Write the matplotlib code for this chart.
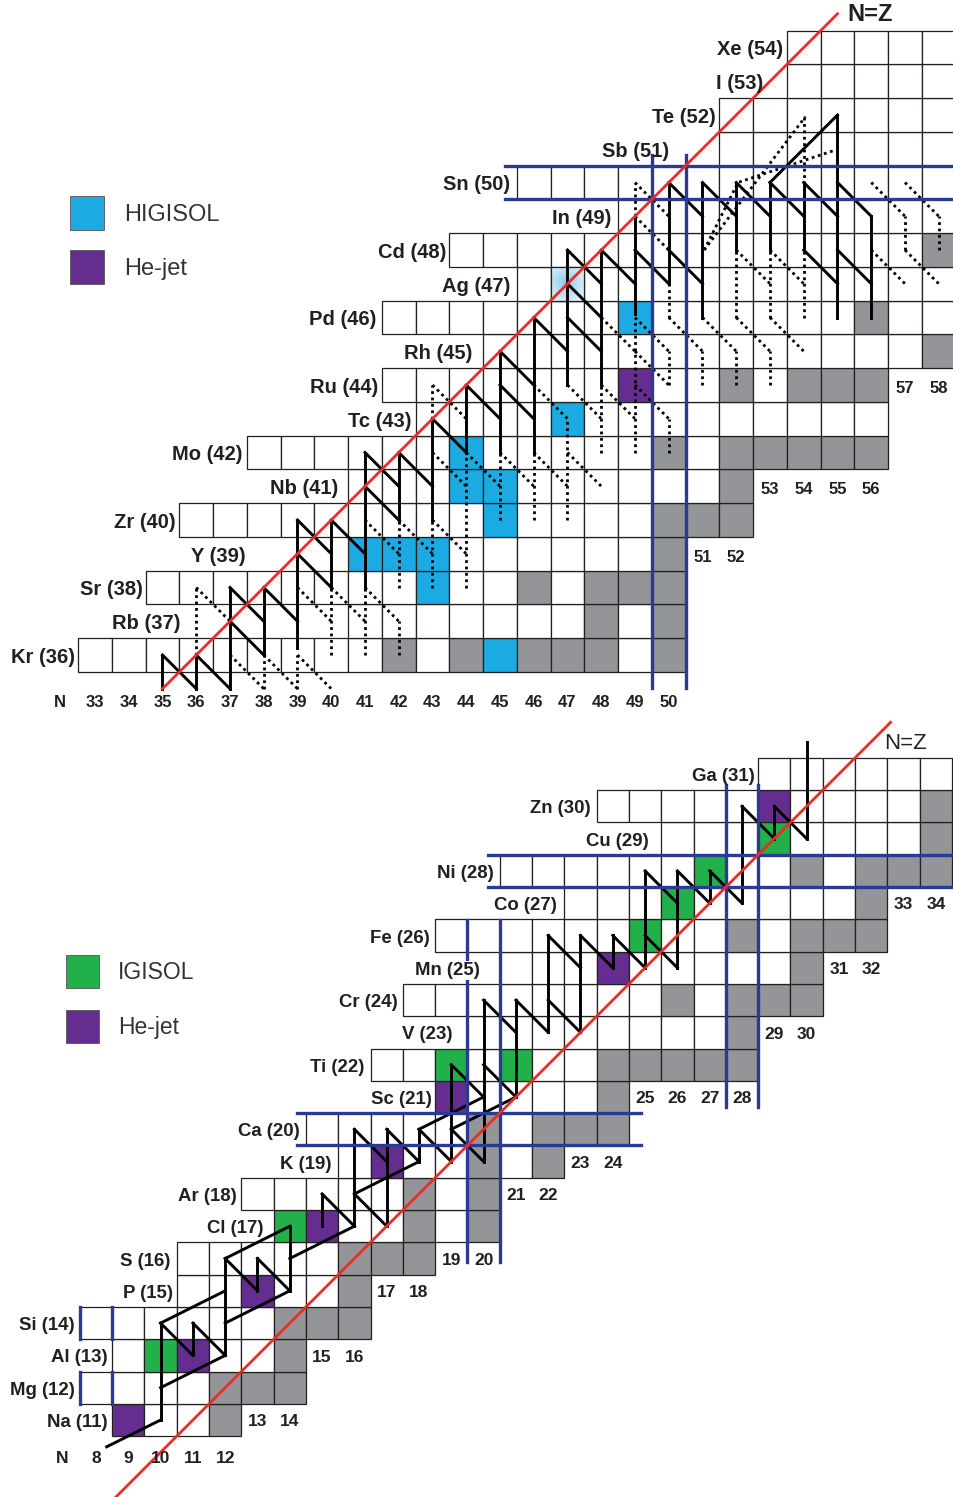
import numpy as np
import matplotlib.pyplot as plt
from matplotlib.patches import Rectangle, Patch

plt.rcParams['font.family'] = ['Liberation Sans', 'DejaVu Sans']

# ---------------- upper chart: Kr (36) .. Xe (54) ----------------
top_elements = ['Kr', 'Rb', 'Sr', 'Y', 'Zr', 'Nb', 'Mo', 'Tc', 'Ru', 'Rh',
                'Pd', 'Ag', 'Cd', 'In', 'Sn', 'Sb', 'Te', 'I', 'Xe']
top_z = list(range(36, 55))
top_n_first = [33, 41, 35, 41, 36, 41, 38, 43, 42, 45, 42, 46, 44, 49, 46, 52, 52, 54, 54]
top_n_last = [50, 50, 50, 50, 52, 52, 56, 56, 56, 58, 58, 58, 58, 58, 58, 58, 58, 58, 58]
top_stable = {36: [42, 44, 46, 47, 48, 50], 37: [48, 50], 38: [46, 48, 49, 50], 39: [50],
              40: [50, 51, 52], 41: [52], 42: [50, 52, 53, 54, 55, 56],
              44: [52, 54, 55, 56], 45: [58], 46: [56], 48: [58]}
top_higisol = [(45, 36), (43, 38), (41, 39), (42, 39), (43, 39), (45, 40), (44, 41),
               (45, 41), (44, 42), (47, 43), (49, 46)]
top_hejet = [(49, 44)]
top_tentative = [(47, 47)]
top_n_axis = list(range(33, 51))
top_end_labels = [(39, [51, 52]), (41, [53, 54, 55, 56]), (44, [57, 58])]

# path segments: verticals (N, Zlow, Zhigh), beta+ steps start (N, Z) -> (N+1, Z-1)
top_solid_v = [(35, 35, 36), (36, 35, 36), (37, 35, 38), (38, 36, 38), (39, 36.2, 40),
               (40, 38, 40), (41, 38, 42), (42, 40, 42), (43, 40, 43), (44, 42, 44),
               (45, 42, 45), (46, 42, 46), (47, 44, 48), (48, 44, 48), (49, 46.1, 49),
               (50, 47, 50), (51, 46, 50), (52, 48, 50), (53, 48, 50), (54, 48, 50),
               (55, 46, 52), (56, 46, 49)]
top_solid_d = [(35, 36), (36, 36), (37, 38), (37, 37), (38, 38), (39, 40), (39, 39),
               (40, 40), (41, 42), (41, 41), (42, 42), (43, 43), (44, 44), (45, 45),
               (45, 44), (46, 46), (47, 48), (47, 47), (47, 46), (48, 48), (49, 48),
               (50, 48), (50, 50), (51, 50), (52, 50), (53, 50), (54, 50), (55, 50),
               (54, 48), (55, 48)]
top_solid_extra = [[(53, 50), (55, 52)]]
top_dot_v = [(36, 36, 38), (38, 35, 36), (39, 35, 36), (40, 36, 38), (41, 36, 38),
             (42, 36, 37), (42, 38, 40), (43, 38, 40), (43, 43, 44), (44, 38, 42),
             (45, 40, 42), (46, 40, 42), (47, 40, 43), (48, 42, 44), (49, 42, 46),
             (50, 44, 45), (50, 46, 47), (50, 42, 43), (49, 49, 50), (51, 44, 45),
             (52, 44, 45), (52, 46, 48), (53, 44, 45), (53, 46, 48), (54, 46, 52),
             (57, 48, 49), (58, 48, 49)]
top_dot_d = [(36, 38), (37, 36), (38, 36), (39, 36), (39, 38), (40, 38), (41, 38),
             (41, 40), (42, 40), (43, 40), (43, 42), (43, 44), (44, 42), (45, 42),
             (46, 42), (47, 42), (46, 44), (47, 44), (48, 44), (49, 44), (49, 46),
             (50, 46), (51, 46), (52, 46), (53, 46), (49, 50), (49, 49), (48, 46),
             (49, 45), (52, 48), (53, 48), (56, 48), (57, 48), (56, 50), (57, 50)]
top_dot_extra = [[(51.05, 48.0), (54.05, 51.95)],
                 [(51.05, 48.0), (52.05, 50.0), (54.9, 50.95)]]

# ---------------- lower chart: Na (11) .. Ga (31) ----------------
bot_elements = ['Na', 'Mg', 'Al', 'Si', 'P', 'S', 'Cl', 'Ar', 'K', 'Ca', 'Sc',
                'Ti', 'V', 'Cr', 'Mn', 'Fe', 'Co', 'Ni', 'Cu', 'Zn', 'Ga']
bot_z = list(range(11, 32))
bot_n_first = [9, 8, 9, 8, 11, 11, 14, 13, 16, 15, 19, 17, 20, 18, 21, 19, 23, 21, 26, 24, 29]
bot_n_last = [12, 14, 14, 16, 16, 18, 20, 20, 22, 24, 24, 28, 28, 30, 30, 32, 32, 34, 34, 34, 34]
bot_stable = {11: [12], 12: [12, 13, 14], 13: [14], 14: [14, 15, 16], 15: [16],
              16: [16, 17, 18], 17: [18, 20], 18: [18, 20], 19: [20, 22],
              20: [20, 22, 23, 24], 21: [24], 22: [24, 25, 26, 27, 28], 23: [28],
              24: [26, 28, 29, 30], 25: [30], 26: [28, 30, 31, 32], 27: [32],
              28: [30, 32, 33, 34], 29: [34], 30: [34]}
bot_igisol = [(10, 13), (14, 17), (19, 22), (21, 22), (25, 26), (26, 27), (27, 28), (29, 29)]
bot_hejet = [(9, 11), (11, 13), (13, 15), (15, 17), (17, 19), (19, 21), (24, 25), (29, 30)]
bot_n_axis = list(range(8, 13))
bot_end_labels = [(11, [13, 14]), (13, [15, 16]), (15, [17, 18]), (16, [19, 20]),
                  (18, [21, 22]), (19, [23, 24]), (21, [25, 26, 27, 28]), (23, [29, 30]),
                  (25, [31, 32]), (27, [33, 34])]

bot_solid_v = [(10, 11, 14), (11, 13, 14), (12, 13, 16), (13, 15, 16), (14, 15, 17),
               (15, 17, 18), (16, 17, 20), (17, 17, 20), (18, 19, 20), (19, 19, 22),
               (20, 19, 24), (21, 21, 24), (22, 23, 26), (23, 23, 26), (24, 25, 26),
               (25, 25, 28), (26, 25, 28), (27, 27, 28), (28, 27, 30), (29, 29, 30),
               (30, 29, 32)]
bot_solid_d = [(10, 14), (11, 14), (12, 16), (13, 16), (15, 18), (16, 18), (16, 20),
               (17, 20), (18, 20), (19, 20), (19, 22), (20, 22), (20, 24), (21, 24),
               (22, 24), (22, 26), (23, 26), (24, 26), (25, 26), (25, 28), (26, 28),
               (27, 28), (28, 30), (29, 30)]
bot_solid_extra = [[(8.33, 10.17), (10, 11)], [(10, 12), (12, 13)], [(10, 14), (12, 15)],
                   [(12, 14), (14, 15)], [(12, 16), (14, 17)], [(14, 16), (16, 17)],
                   [(16, 18), (18, 19)], [(18, 20), (20, 21)], [(19, 20), (21, 21)]]

# ---------------- layout ----------------
W, H = 954, 1497
EDGE = '#231F20'
GRAY = '#939598'
C_HIGISOL = '#1BAAE1'
C_HEJET = '#662D91'
C_IGISOL = '#22B04B'
BLUE = '#2B3A92'
RED = '#EE2A24'

top_label_right = [32.4, 35.52, 34.42, 37.45, 35.38, 40.2, 37.38, 42.38, 41.4, 44.17,
                   41.35, 45.3, 43.4, 48.3, 45.3, 50.0, 51.4, 52.8, 53.4]
bot_label_right = [8.37, 7.35, 8.37, 7.35, 10.38, 10.3, 13.2, 12.37, 15.3, 14.3, 18.4,
                   16.3, 19.05, 17.35, 19.9, 18.34, 22.27, 20.3, 25.1, 23.3, 28.4]

fig = plt.figure(figsize=(W / 100, H / 100), dpi=100)
ax_top = fig.add_axes([0, 1 - 720 / H, 1, 720 / H])
ax_bot = fig.add_axes([0, 0, 1, (H - 720) / H])
top_lim = ((30.1852, 58.4519), (34.0741, 55.4074))
bot_lim = ((5.0279, 34.5635), (8.6161, 32.6718))


def fills_for(stable, groups):
    fills = {}
    for z, ns in stable.items():
        for n in ns:
            fills[(n, z)] = GRAY
    for cells, color in groups:
        for cell in cells:
            fills[cell] = color
    return fills


def draw_rows(ax, zs, firsts, lasts, fills):
    for z, n0, n1 in zip(zs, firsts, lasts):
        for n in range(n0, n1 + 1):
            ax.add_patch(Rectangle((n - 0.5, z - 0.5), 1, 1, facecolor=fills.get((n, z), 'white'),
                                   edgecolor=EDGE, lw=0.9, zorder=1))


def draw_paths(ax, verticals, diagonals, extra, style):
    for n, lo, hi in verticals:
        ax.plot([n, n], [lo, hi], **style)
    for n, z in diagonals:
        ax.plot([n, n + 1], [z, z - 1], **style)
    for path in extra:
        xs, ys = zip(*path)
        ax.plot(xs, ys, **style)


def add_legend(ax, labels, colors, top_px, left_px, size, spacing):
    handles = [Patch(facecolor=c, edgecolor='#555555', lw=0.6, label=l)
               for l, c in zip(labels, colors)]
    leg = ax.legend(handles=handles, loc='upper left',
                    bbox_to_anchor=(left_px / W, 1 - top_px / H), bbox_transform=fig.transFigure,
                    frameon=False, fontsize=size, handlelength=1.44, handleheight=1.84,
                    handletextpad=0.84, labelspacing=spacing, borderpad=0, borderaxespad=0)
    for t in leg.get_texts():
        t.set_color('#333333')


solid = dict(color='black', lw=2.1, solid_capstyle='projecting', zorder=3)
dotted = dict(color='black', lw=2.0, linestyle=(0, (1, 1.3)), dash_capstyle='butt', zorder=3)
lab_font = dict(fontweight='bold', color=EDGE, zorder=6)

# ---- upper chart ----
ax = ax_top
fills = fills_for(top_stable, [(top_higisol, C_HIGISOL), (top_hejet, C_HEJET),
                               (top_tentative, 'none')])
draw_rows(ax, top_z, top_n_first, top_n_last, fills)
yy, xx = np.mgrid[-1:1:80j, -1:1:80j]
r = np.clip(np.hypot(xx + 0.15, yy + 0.1) / 1.3, 0, 1)[..., None]
c_in, c_out = np.array([0.55, 0.80, 0.94]), np.array([0.88, 0.95, 0.99])
grad = c_in + (c_out - c_in) * r
for n, z in top_tentative:
    ax.imshow(grad, extent=[n - 0.5, n + 0.5, z - 0.5, z + 0.5], aspect='auto',
              interpolation='bilinear', zorder=1.05)
    ax.add_patch(Rectangle((n - 0.5, z - 0.5), 1, 1, facecolor='none', edgecolor=EDGE,
                           lw=0.9, zorder=1.1))
draw_paths(ax, top_dot_v, top_dot_d, top_dot_extra, dotted)
draw_paths(ax, top_solid_v, top_solid_d, top_solid_extra, solid)
for x in (49.5, 50.5):
    ax.plot([x, x], [35.02, 50.81], color=BLUE, lw=2.4, zorder=4)
    ax.plot([45.15, 58.6], [x, x], color=BLUE, lw=2.4, zorder=4)
ax.plot([35, 55], [35, 55], color=RED, lw=2.0, zorder=5)
ax.text(55.96, 54.99, 'N=Z', ha='center', va='center', fontsize=17, **lab_font)
for sym, z, xr in zip(top_elements, top_z, top_label_right):
    ax.text(xr, z - 0.07, f'{sym} ({z})', ha='right', va='center', fontsize=14.5, **lab_font)
ax.text(31.95, 34.6, 'N', ha='center', va='center', fontsize=12, **lab_font)
for n in top_n_axis:
    ax.text(n, 34.6, str(n), ha='center', va='center', fontsize=12, **lab_font)
for z, ns in top_end_labels:
    for n in ns:
        ax.text(n, z - 0.1, str(n), ha='center', va='center', fontsize=12, **lab_font)
add_legend(ax, ['HIGISOL', 'He-jet'], [C_HIGISOL, C_HEJET], 196, 70, 17, 0.85)

# ---- lower chart ----
ax = ax_bot
fills = fills_for(bot_stable, [(bot_igisol, C_IGISOL), (bot_hejet, C_HEJET)])
draw_rows(ax, bot_z, bot_n_first, bot_n_last, fills)
draw_paths(ax, bot_solid_v, bot_solid_d, bot_solid_extra, solid)
for x in (27.5, 28.5):
    ax.plot([x, x], [20.69, 30.66], color=BLUE, lw=2.4, zorder=4)
    ax.plot([20.14, 34.7], [x, x], color=BLUE, lw=2.4, zorder=4)
for x in (19.5, 20.5):
    ax.plot([x, x], [15.89, 26.48], color=BLUE, lw=2.4, zorder=4)
    ax.plot([14.22, 24.87], [x, x], color=BLUE, lw=2.4, zorder=4)
for z in (12, 14):
    for x in (7.5, 8.5):
        ax.plot([x, x], [z - 0.5, z + 0.5], color=BLUE, lw=2.4, zorder=4)
ax.plot([8.0, 32.6], [8.0, 32.6], color=RED, lw=2.0, zorder=5)
ax.text(33.05, 31.93, 'N=Z', ha='center', va='center', fontsize=16, color=EDGE, zorder=6)
for sym, z, xr in zip(bot_elements, bot_z, bot_label_right):
    t = ax.text(xr, z - 0.08, f'{sym} ({z})', ha='right', va='center', fontsize=13.4, **lab_font)
    if sym == 'Mn':
        t.set_bbox(dict(facecolor='white', edgecolor='none', pad=0.5))
ax.text(6.95, 9.8, 'N', ha='center', va='center', fontsize=12.5, **lab_font)
for n in bot_n_axis:
    ax.text(n, 9.8, str(n), ha='center', va='center', fontsize=12.5, **lab_font)
for z, ns in bot_end_labels:
    for n in ns:
        ax.text(n, z - 0.05, str(n), ha='center', va='center', fontsize=12.5, **lab_font)
add_legend(ax, ['IGISOL', 'He-jet'], [C_IGISOL, C_HEJET], 955, 66, 16.5, 0.96)

for ax, (xl, yl) in ((ax_top, top_lim), (ax_bot, bot_lim)):
    ax.set_xlim(*xl)
    ax.set_ylim(*yl)
    ax.axis('off')

fig.savefig('out.png', dpi=100)
